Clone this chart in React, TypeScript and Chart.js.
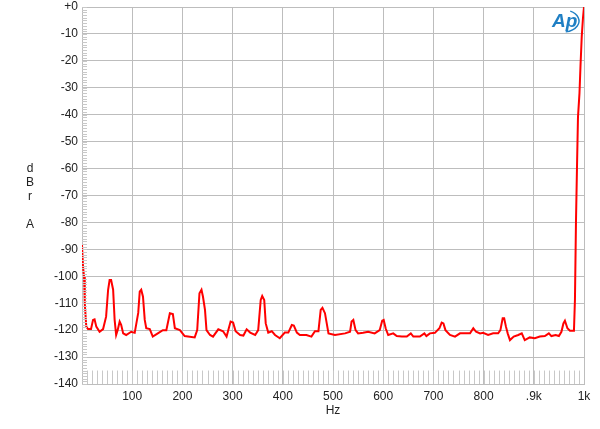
import React, { useEffect, useRef } from "react";
import { Chart, registerables } from "chart.js";

Chart.register(...registerables);

const freqHz = [
  0, 2, 4, 5.5, 8.5, 12, 18, 22, 25, 28.5, 35, 42, 48, 52, 55, 58, 62, 65, 68, 71, 75, 78, 82, 88, 98,
  105, 112, 115, 118, 121.5, 125, 128, 135, 141, 151, 161, 168, 175, 181, 185, 195, 204.5, 224.5, 229.5,
  234, 238, 241, 245, 248, 255, 261, 271.5, 281, 288, 296, 301, 306, 315, 321.5, 328, 335, 345, 351, 356,
  359, 363, 366, 371, 378, 384.5, 394, 404, 411, 418, 422, 428, 434, 447, 457, 464, 471, 475.5, 479, 484,
  491, 504, 524, 534, 537, 540.5, 545, 550, 560, 570, 583, 593, 598, 601, 605, 610, 620, 627, 637, 647,
  655, 660, 673, 682, 686, 693, 703, 712, 716.5, 720, 724, 733, 743, 753, 763, 773, 779.5, 785, 793, 799,
  809, 819, 829, 833.5, 838, 841, 844.5, 848, 852.5, 860, 869, 876, 882, 892, 902, 912, 922, 930, 935,
  943.5, 950, 955, 959, 962, 967, 972, 980, 982, 984, 986, 988, 991, 993, 995.5, 998, 1000,
];

const levelDb = [
  -88.4, -96.4, -100, -110, -118.7, -119.6, -119.6, -116.2, -116, -118.7, -120.6, -119.6, -115, -105,
  -101.4, -101.4, -105, -116.2, -121.8, -120, -116.8, -118, -121.2, -121.8, -120.6, -121, -113.6, -105.7,
  -105, -107.6, -116.2, -119.3, -119.6, -122.4, -121.2, -120, -120, -113.7, -114, -119.3, -120, -122.2,
  -122.7, -120, -106.3, -105, -107.6, -112.5, -120, -121.8, -122.4, -119.7, -120.4, -122.4, -116.8,
  -117.2, -120.4, -121.8, -122, -119.7, -120.9, -121.8, -120, -108.8, -107.3, -108.8, -117.5, -120.9,
  -120.4, -121.8, -123, -120.9, -120.9, -118.1, -118.3, -120.9, -121.8, -121.8, -122.4, -120.4, -120.4,
  -112.5, -111.7, -113.7, -121.2, -121.8, -121.2, -120.6, -116.8, -116.2, -120, -121.2, -121, -120.6,
  -121.2, -120, -116.5, -116.2, -119.4, -121.8, -121.2, -122.2, -122.4, -122.4, -121.2, -122.4, -122.4,
  -121.2, -122.2, -121.2, -121, -119.3, -117.2, -117.5, -120, -121.8, -122.4, -121.2, -121.2, -121.2,
  -119.3, -120.6, -121.2, -121, -121.8, -121.2, -121.2, -120, -115.6, -115.6, -118.7, -121.2, -123.7,
  -122.4, -121.8, -121.2, -123.7, -122.7, -123, -122.4, -122.2, -121.2, -122.2, -121.8, -122.2, -120.6,
  -117.5, -116.5, -119.3, -120.2, -120.2, -108.5, -80, -60, -41, -32, -22, -11, -4, 0,
];

const xTickValues = [0, 100, 200, 300, 400, 500, 600, 700, 800, 900, 1000];
const xTickLabels = ["", "100", "200", "300", "400", "500", "600", "700", "800", ".9k", "1k"];
const yTickValues = [0, -10, -20, -30, -40, -50, -60, -70, -80, -90, -100, -110, -120, -130, -140];
const yTitleLetters = ["d", "B", "r", "", "A"];
const xTitle = "Hz";

const FONT = "'Liberation Sans', Arial, sans-serif";
const GRID = "#bdbdbd";

const decorPlugin = {
  id: "decor",
  afterDatasetsDraw(chart: any) {
    const { ctx, chartArea, scales } = chart;
    const xs = scales.x;
    const ys = scales.y;
    ctx.save();
    ctx.strokeStyle = "#c8c8c8";
    ctx.lineWidth = 1;
    ctx.beginPath();
    for (let v = 0; v >= -140; v -= 1) {
      const y = Math.round(ys.getPixelForValue(v)) + 0.5;
      ctx.moveTo(chartArea.left, y);
      ctx.lineTo(chartArea.left + 5, y);
    }
    const yTop = ys.getPixelForValue(-135);
    for (let f = 10; f < 1000; f += 10) {
      const x = Math.round(xs.getPixelForValue(f)) + 0.5;
      ctx.moveTo(x, chartArea.bottom);
      ctx.lineTo(x, yTop);
    }
    ctx.stroke();
    ctx.restore();
  },
  afterDraw(chart: any) {
    const { ctx, chartArea } = chart;
    ctx.save();
    ctx.fillStyle = "#222";
    ctx.font = `12px ${FONT}`;
    ctx.textAlign = "center";
    ctx.textBaseline = "middle";
    const startY = 169;
    yTitleLetters.forEach((l, i) => {
      if (l) ctx.fillText(l, 30, startY + i * 14);
    });
    ctx.fillText(xTitle, (chartArea.left + chartArea.right) / 2, 411);
    // Ap logo
    ctx.fillStyle = "#1f7fc4";
    ctx.strokeStyle = "#1f7fc4";
    ctx.font = `italic bold 19px ${FONT}`;
    ctx.textAlign = "left";
    ctx.fillText("Ap", 552, 22);
    ctx.lineWidth = 1.4;
    ctx.beginPath();
    ctx.ellipse(563, 21, 16, 11, 0, -1.1, 1.4);
    ctx.stroke();
    ctx.restore();
  },
};

export default function App() {
  const ref = useRef<HTMLCanvasElement>(null);
  useEffect(() => {
    if (!ref.current) return;
    const data = freqHz.map((f, i) => ({ x: f, y: levelDb[i] }));
    const chart = new Chart(ref.current, {
      type: "line",
      data: {
        datasets: [
          {
            data,
            borderColor: "#ff0000",
            borderWidth: 2,
            pointRadius: 0,
            tension: 0,
            fill: false,
          },
        ],
      },
      options: {
        responsive: false,
        animation: false,
        events: [],
        layout: { padding: { top: 7, right: 16, left: 0, bottom: 0 } },
        plugins: { legend: { display: false }, tooltip: { enabled: false } },
        scales: {
          x: {
            type: "linear",
            min: 0,
            max: 1000,
            afterBuildTicks: (s: any) => {
              s.ticks = xTickValues.map((v) => ({ value: v }));
            },
            afterFit: (s: any) => {
              s.height = 45;
              s.paddingLeft = 0;
              s.paddingRight = 0;
            },
            ticks: {
              autoSkip: false,
              maxRotation: 0,
              padding: 5,
              color: "#222",
              font: { family: FONT, size: 12 },
              callback: (v: any) => {
                const i = xTickValues.indexOf(Number(v));
                return i >= 0 ? xTickLabels[i] : "";
              },
            },
            grid: { color: GRID, drawTicks: false, lineWidth: 1 },
            border: { color: GRID },
          },
          y: {
            type: "linear",
            min: -140,
            max: 0,
            afterBuildTicks: (s: any) => {
              s.ticks = yTickValues.map((v) => ({ value: v }));
            },
            afterFit: (s: any) => {
              s.width = 82;
              s.paddingTop = 0;
              s.paddingBottom = 0;
            },
            ticks: {
              autoSkip: false,
              padding: 4,
              color: "#222",
              font: { family: FONT, size: 12 },
              callback: (v: any) => (Number(v) === 0 ? "+0" : String(v)),
            },
            grid: { color: GRID, drawTicks: false, lineWidth: 1 },
            border: { color: GRID },
          },
        },
      },
      plugins: [decorPlugin],
    } as any);
    return () => chart.destroy();
  }, []);
  return (
    <div style={{ position: "fixed", left: 0, top: 0, width: 600, height: 429, background: "#fff" }}>
      <canvas ref={ref} width={600} height={429} />
    </div>
  );
}
